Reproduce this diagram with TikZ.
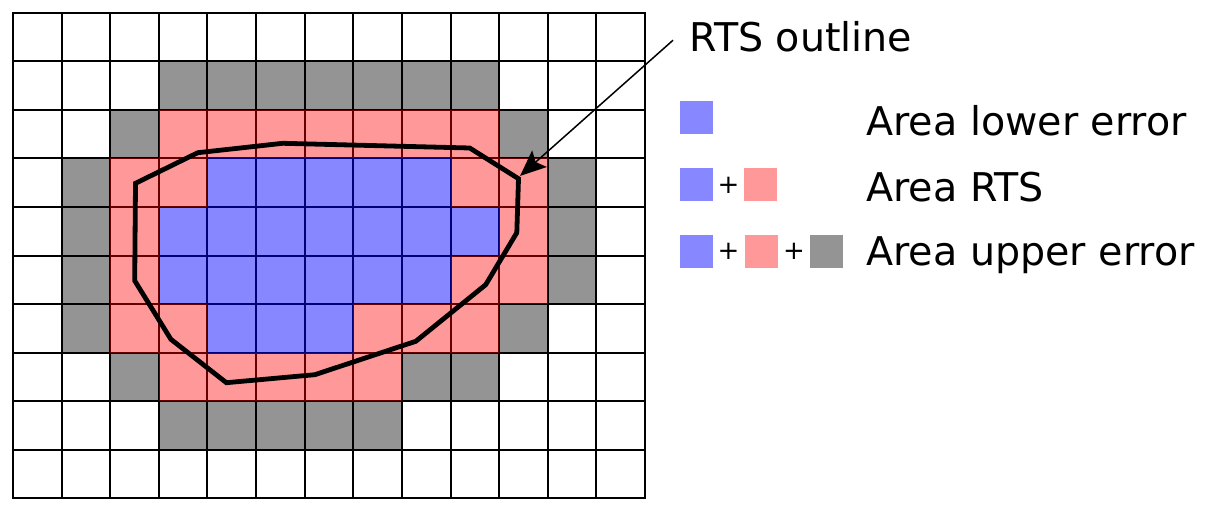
\documentclass[tikz,border=0pt]{standalone}
\usepackage{fontspec}
\setmainfont{DejaVu Sans}
\usetikzlibrary{arrows.meta}
\begin{document}
\begin{tikzpicture}[x=0.5pt,y=-0.5pt,
  gridline/.style={line width=1pt,black},
  bluec/.style={fill=blue,fill opacity=0.47},
  redc/.style={fill=red,fill opacity=0.4},
  grayc/.style={fill=black,fill opacity=0.42},
  sq/.style={minimum size=16.5pt,inner sep=0pt,draw=none},
  lbltext/.style={anchor=base west,inner sep=0pt,font=\fontsize{19.8pt}{24pt}\selectfont},
  plus/.style={inner sep=0pt,font=\fontsize{13pt}{15pt}\selectfont},
  outline/.style={line width=2.4pt,line join=miter},
  pointer/.style={line width=0.75pt,-{Stealth[length=13pt,width=11pt,inset=2.5pt]}}]
\useasboundingbox (0,0) rectangle (1208,513);
\def\cw{48.615}
\def\ch{48.5}
\newcommand\cellrun[4]{\fill[#1] ({13+#3*\cw},{13+#2*\ch}) rectangle ({13+(#4+1)*\cw},{13+(#2+1)*\ch});}
% grid
\foreach \i in {0,...,13} \draw[gridline] ({13+\i*\cw},13) -- ({13+\i*\cw},498);
\foreach \j in {0,...,10} \draw[gridline] (13,{13+\j*\ch}) -- (645,{13+\j*\ch});
\draw[line width=1.4pt] (13,13) rectangle (645,498);
% row 1
\cellrun{grayc}{1}{3}{9}
% row 2
\cellrun{grayc}{2}{2}{2}\cellrun{redc}{2}{3}{9}\cellrun{grayc}{2}{10}{10}
% row 3
\cellrun{grayc}{3}{1}{1}\cellrun{redc}{3}{2}{3}\cellrun{bluec}{3}{4}{8}\cellrun{redc}{3}{9}{10}\cellrun{grayc}{3}{11}{11}
% row 4
\cellrun{grayc}{4}{1}{1}\cellrun{redc}{4}{2}{2}\cellrun{bluec}{4}{3}{9}\cellrun{redc}{4}{10}{10}\cellrun{grayc}{4}{11}{11}
% row 5
\cellrun{grayc}{5}{1}{1}\cellrun{redc}{5}{2}{2}\cellrun{bluec}{5}{3}{8}\cellrun{redc}{5}{9}{10}\cellrun{grayc}{5}{11}{11}
% row 6
\cellrun{grayc}{6}{1}{1}\cellrun{redc}{6}{2}{3}\cellrun{bluec}{6}{4}{6}\cellrun{redc}{6}{7}{9}\cellrun{grayc}{6}{10}{10}
% row 7
\cellrun{grayc}{7}{2}{2}\cellrun{redc}{7}{3}{7}\cellrun{grayc}{7}{8}{9}
% row 8
\cellrun{grayc}{8}{3}{7}
% RTS outline
\draw[outline] (135.5,183.3) -- (197.8,152.7) -- (282.8,143.3) -- (469.7,148) -- (518.5,178.7) -- (516.8,232.7) -- (485.7,284.7) -- (415.8,341.3) -- (314.8,374.7) -- (226.4,382.7) -- (170.9,339.3) -- (134.7,280.7) -- cycle;
% label and arrow
\node[lbltext] (lbl) at (689,52) {RTS outline};
\coordinate (arrtip) at (520,176);
\draw[pointer] ([xshift=-8pt,yshift=-1.5pt]lbl.west) -- (arrtip);
% legend
\node[sq,bluec] (l1b) at (696.5,118) {};
\node[lbltext] (t1) at (866,136) {Area lower error};
\node[sq,bluec] (l2b) at (696.5,185) {};
\node[plus] (p21) at (728.5,185) {+};
\node[sq,redc] (l2r) at (760.5,185) {};
\node[lbltext] (t2) at (866,201) {Area RTS};
\node[sq,bluec] (l3b) at (696.5,251) {};
\node[plus] (p31) at (728.5,251) {+};
\node[sq,redc] (l3r) at (761,251) {};
\node[plus] (p32) at (794,251) {+};
\node[sq,grayc] (l3g) at (826.5,251) {};
\node[lbltext] (t3) at (866,265) {Area upper error};
\end{tikzpicture}
\end{document}
